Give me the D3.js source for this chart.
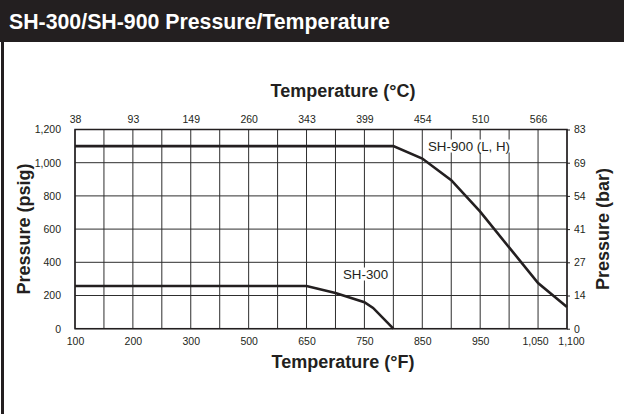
<!DOCTYPE html>
<html>
<head>
<meta charset="utf-8">
<script src="https://cdn.jsdelivr.net/npm/d3@7"></script>
<style>
  body { margin: 0; background: #fff; }
  svg { display: block; font-family: "Liberation Sans", Arial, Helvetica, sans-serif; }
</style>
</head>
<body>
<div id="chart"></div>
<script>
// tick labels (°F bottom, °C top, bar right)
const fTicks = [100, 200, 300, 500, 650, 750, 850, 950, 1050, 1100];
const fTickSlot = [0, 2, 4, 6, 8, 10, 12, 14, 16, 17]; // grid column of each °F tick
const cTicks = [38, 93, 149, 260, 343, 399, 454, 510, 566];
const psigTicks = [0, 200, 400, 600, 800, 1000, 1200];
const barTicks = [0, 14, 27, 41, 54, 69, 83];

// rating curves, °F vs psig
const sh900F = [100, 800, 850, 900, 950, 1000, 1050, 1100];
const sh900P = [1100, 1100, 1025, 895, 705, 490, 275, 130];
const sh300F = [100, 650, 700, 750, 765, 800];
const sh300P = [257, 257, 215, 160, 125, 0];

const W = 624, H = 414;
const pL = 75, pR = 567, pT = 129.5, pB = 328.7;
const ink = "#231f20";

const svg = d3.select("#chart").append("svg")
  .attr("width", W).attr("height", H);

// title bar + frame
svg.append("rect").attr("x", 0).attr("y", 0).attr("width", W).attr("height", 42).attr("fill", ink);
svg.append("line").attr("x1", 2.5).attr("x2", 2.5).attr("y1", 40).attr("y2", H)
  .attr("stroke", ink).attr("stroke-width", 3);
svg.append("text").attr("x", 9).attr("y", 28.5)
  .attr("fill", "#fff").attr("font-size", 21.3).attr("font-weight", "bold")
  .text("SH-300/SH-900 Pressure/Temperature");

const nCols = 17;
const col = d3.scaleLinear().domain([0, nCols]).range([pL, pR]);
const x = d3.scaleLinear().domain(fTicks).range(fTickSlot.map(col));
const y = d3.scaleLinear().domain([0, 1200]).range([pB, pT]);

// grid
const g = svg.append("g");
g.selectAll(".vg").data(d3.range(nCols + 1)).enter().append("line")
  .attr("x1", d => col(d)).attr("x2", d => col(d))
  .attr("y1", pT).attr("y2", pB)
  .attr("stroke", "#2e2e2e").attr("stroke-width", 1);
g.selectAll(".hg").data(psigTicks).enter().append("line")
  .attr("x1", pL).attr("x2", pR)
  .attr("y1", d => y(d)).attr("y2", d => y(d))
  .attr("stroke", "#2e2e2e").attr("stroke-width", 1);

function styleAxis(sel) {
  sel.select(".domain").remove();
  sel.selectAll("text").attr("fill", ink).attr("font-size", 10.5);
  sel.selectAll("line").attr("stroke", ink);
}

const bx = svg.append("g").attr("transform", `translate(0,${pB + 6})`)
  .call(d3.axisBottom(x).tickValues(fTicks).tickSize(0).tickFormat(d3.format(",")))
  .call(styleAxis);
// nudge the two crowded end labels apart
bx.selectAll("text").attr("dx", d => d === 1050 ? -3 : d === 1100 ? 4 : 0);

svg.append("g").attr("transform", `translate(0,${pT - 4})`)
  .call(d3.axisTop(x).tickValues(fTicks.slice(0, cTicks.length)).tickSize(0)
    .tickFormat((d, i) => cTicks[i]))
  .call(styleAxis);

svg.append("g").attr("transform", `translate(${pL - 11},0)`)
  .call(d3.axisLeft(y).tickValues(psigTicks).tickSize(0).tickFormat(d3.format(",")))
  .call(styleAxis);

svg.append("g").attr("transform", `translate(${pR},0)`)
  .call(d3.axisRight(y).tickValues(psigTicks).tickSize(3).tickPadding(4)
    .tickFormat((d, i) => barTicks[i]))
  .call(styleAxis);

// plot border
svg.append("rect").attr("x", pL).attr("y", pT)
  .attr("width", pR - pL).attr("height", pB - pT)
  .attr("fill", "none").attr("stroke", ink).attr("stroke-width", 1.5);

// curve labels with white knockout
function tag(tx, ty, txt) {
  const t = svg.append("text").attr("x", tx).attr("y", ty)
    .attr("font-size", 13.3).attr("fill", ink).attr("dominant-baseline", "middle").text(txt);
  const b = t.node().getBBox();
  svg.insert("rect", () => t.node())
    .attr("x", b.x - 2).attr("y", b.y + 1).attr("width", b.width + 4).attr("height", b.height - 2)
    .attr("fill", "#fff");
}
tag(428, 147, "SH-900 (L, H)");
tag(343, 275, "SH-300");

// curves
const line = d3.line().x(d => x(d[0])).y(d => y(d[1]));
svg.append("path").datum(d3.zip(sh900F, sh900P)).attr("d", line)
  .attr("fill", "none").attr("stroke", ink).attr("stroke-width", 2.6);
svg.append("path").datum(d3.zip(sh300F, sh300P)).attr("d", line)
  .attr("fill", "none").attr("stroke", ink).attr("stroke-width", 2.6);

// axis titles
const ttl = (tx, ty, txt, rot) => svg.append("text")
  .attr("transform", `translate(${tx},${ty})` + (rot ? ` rotate(${rot})` : ""))
  .attr("text-anchor", "middle").attr("font-size", 18).attr("font-weight", "bold")
  .attr("fill", ink).text(txt);
ttl(343, 97, "Temperature (°C)");
ttl(343, 368, "Temperature (°F)");
ttl(30, 229, "Pressure (psig)", -90);
ttl(609, 229, "Pressure (bar)", -90);
</script>
</body>
</html>
